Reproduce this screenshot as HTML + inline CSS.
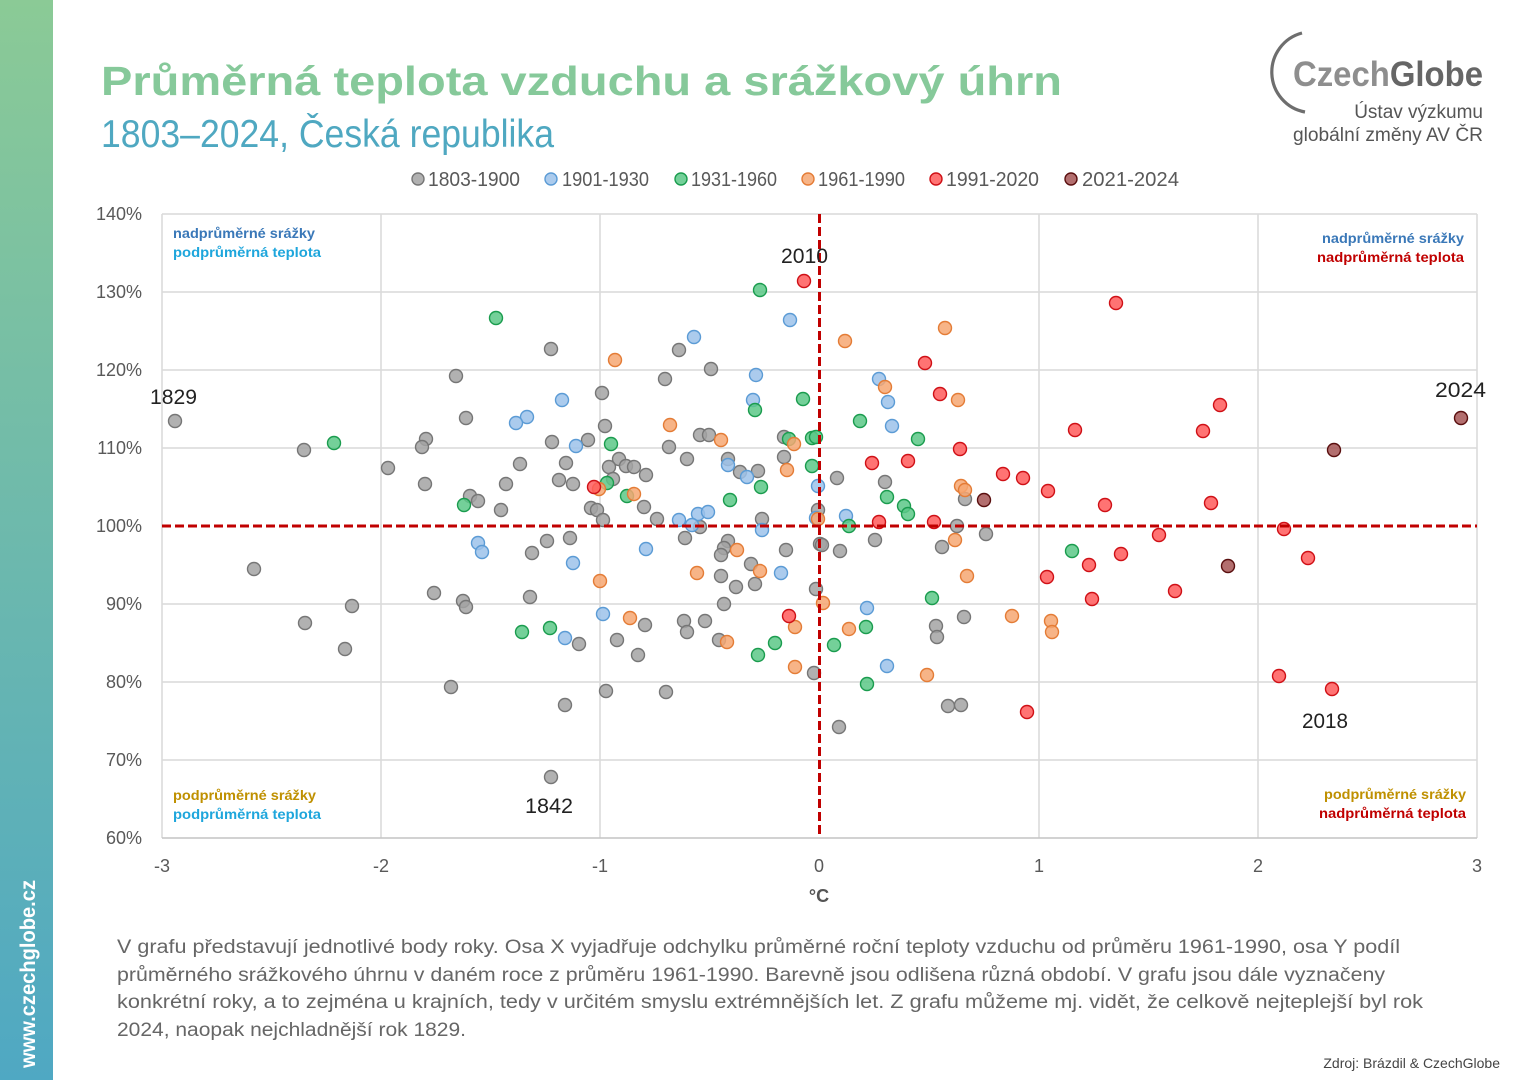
<!DOCTYPE html>
<html><head><meta charset="utf-8">
<style>
html,body{margin:0;padding:0;background:#fff;}
body{width:1527px;height:1080px;overflow:hidden;}
svg{display:block;font-family:"Liberation Sans","DejaVu Sans",sans-serif;}
.g{fill:#a3a3a3;stroke:#767676;}
.b{fill:#9cc2ea;stroke:#5b9bd5;}
.gr{fill:#5cc887;stroke:#1a9c4e;}
.o{fill:#f6a772;stroke:#e47c36;}
.r{fill:#ff5b5b;stroke:#cf1016;}
.d{fill:#a65656;stroke:#5a0f0f;}
circle{stroke-width:1.4;fill-opacity:.85;}
.yt{font-size:18px;fill:#595959;text-anchor:end;}
.xt{font-size:18px;fill:#595959;text-anchor:middle;}
.lg{font-size:20px;fill:#595959;}
.ql{font-size:13.5px;font-weight:bold;}
.yr{font-size:21px;fill:#222;}
.p{font-size:19px;fill:#666;}
</style></head>
<body>
<svg width="1527" height="1080" viewBox="0 0 1527 1080" xmlns="http://www.w3.org/2000/svg">
<defs>
<linearGradient id="sb" x1="0" y1="0" x2="0" y2="1">
<stop offset="0" stop-color="#8bca96"/>
<stop offset="1" stop-color="#4fa8c3"/>
</linearGradient>
</defs>
<rect x="0" y="0" width="1527" height="1080" fill="#fff"/>
<!-- sidebar -->
<rect x="0" y="0" width="53" height="1080" fill="url(#sb)"/>
<text transform="translate(35,1068) rotate(-90)" font-size="21" font-weight="bold" fill="#fff" textLength="188" lengthAdjust="spacingAndGlyphs">www.czechglobe.cz</text>

<!-- title -->
<text x="101" y="95" font-size="41" font-weight="bold" fill="#86c99a" textLength="961" lengthAdjust="spacingAndGlyphs">Průměrná teplota vzduchu a srážkový úhrn</text>
<text x="101" y="147" font-size="39" fill="#4fa8c1" textLength="453" lengthAdjust="spacingAndGlyphs">1803–2024, Česká republika</text>

<!-- logo -->
<path d="M1302,33 A40.5,40.5 0 0 0 1305,112" fill="none" stroke="#6e6e6e" stroke-width="3.2"/>
<text x="1293" y="86" font-size="35" font-weight="bold" textLength="190" lengthAdjust="spacingAndGlyphs"><tspan fill="#8e8e8e">Czech</tspan><tspan fill="#666">Globe</tspan></text>
<text x="1483" y="118" font-size="19" fill="#555" text-anchor="end">Ústav výzkumu</text>
<text x="1483" y="141" font-size="19" fill="#555" text-anchor="end" textLength="190" lengthAdjust="spacingAndGlyphs">globální změny AV ČR</text>

<!-- legend -->
<circle class="g" cx="418" cy="179" r="6"/><text class="lg" x="428" y="186" textLength="92" lengthAdjust="spacingAndGlyphs">1803-1900</text>
<circle class="b" cx="551" cy="179" r="6"/><text class="lg" x="562" y="186" textLength="87" lengthAdjust="spacingAndGlyphs">1901-1930</text>
<circle class="gr" cx="681" cy="179" r="6"/><text class="lg" x="691" y="186" textLength="86" lengthAdjust="spacingAndGlyphs">1931-1960</text>
<circle class="o" cx="808" cy="179" r="6"/><text class="lg" x="818" y="186" textLength="87" lengthAdjust="spacingAndGlyphs">1961-1990</text>
<circle class="r" cx="936" cy="179" r="6"/><text class="lg" x="946" y="186" textLength="93" lengthAdjust="spacingAndGlyphs">1991-2020</text>
<circle class="d" cx="1071" cy="179" r="6"/><text class="lg" x="1082" y="186" textLength="97" lengthAdjust="spacingAndGlyphs">2021-2024</text>

<!-- grid -->
<g stroke="#d9d9d9" stroke-width="1.5">
<line x1="162" y1="214" x2="1477" y2="214"/>
<line x1="162" y1="292" x2="1477" y2="292"/>
<line x1="162" y1="370" x2="1477" y2="370"/>
<line x1="162" y1="448" x2="1477" y2="448"/>
<line x1="162" y1="604" x2="1477" y2="604"/>
<line x1="162" y1="682" x2="1477" y2="682"/>
<line x1="162" y1="760" x2="1477" y2="760"/>
<line x1="162" y1="214" x2="162" y2="838"/>
<line x1="381" y1="214" x2="381" y2="838"/>
<line x1="600" y1="214" x2="600" y2="838"/>
<line x1="1039" y1="214" x2="1039" y2="838"/>
<line x1="1258" y1="214" x2="1258" y2="838"/>
<line x1="1477" y1="214" x2="1477" y2="838"/>
</g>
<line x1="162" y1="838" x2="1477" y2="838" stroke="#c4c4c4" stroke-width="1.5"/>

<!-- y ticks -->
<text class="yt" x="142" y="220">140%</text>
<text class="yt" x="142" y="298">130%</text>
<text class="yt" x="142" y="376">120%</text>
<text class="yt" x="142" y="454">110%</text>
<text class="yt" x="142" y="532">100%</text>
<text class="yt" x="142" y="610">90%</text>
<text class="yt" x="142" y="688">80%</text>
<text class="yt" x="142" y="766">70%</text>
<text class="yt" x="142" y="844">60%</text>
<!-- x ticks -->
<text class="xt" x="162" y="872">-3</text>
<text class="xt" x="381" y="872">-2</text>
<text class="xt" x="600" y="872">-1</text>
<text class="xt" x="819" y="872">0</text>
<text class="xt" x="1039" y="872">1</text>
<text class="xt" x="1258" y="872">2</text>
<text class="xt" x="1477" y="872">3</text>
<text x="819" y="902" font-size="18" font-weight="bold" fill="#555" text-anchor="middle">°C</text>

<!-- quadrant labels -->
<text class="ql" x="173" y="238" fill="#3a78b8" textLength="142" lengthAdjust="spacingAndGlyphs">nadprůměrné srážky</text>
<text class="ql" x="173" y="257" fill="#1ea6dc" textLength="148" lengthAdjust="spacingAndGlyphs">podprůměrná teplota</text>
<text class="ql" x="1322" y="243" fill="#3a78b8" textLength="142" lengthAdjust="spacingAndGlyphs">nadprůměrné srážky</text>
<text class="ql" x="1317" y="262" fill="#c00000" textLength="147" lengthAdjust="spacingAndGlyphs">nadprůměrná teplota</text>
<text class="ql" x="173" y="800" fill="#bf9000" textLength="143" lengthAdjust="spacingAndGlyphs">podprůměrné srážky</text>
<text class="ql" x="173" y="819" fill="#1ea6dc" textLength="148" lengthAdjust="spacingAndGlyphs">podprůměrná teplota</text>
<text class="ql" x="1324" y="799" fill="#bf9000" textLength="142" lengthAdjust="spacingAndGlyphs">podprůměrné srážky</text>
<text class="ql" x="1319" y="818" fill="#c00000" textLength="147" lengthAdjust="spacingAndGlyphs">nadprůměrná teplota</text>

<!-- gray 1803-1900 -->
<g>
<circle class="g" cx="175" cy="421" r="6.5"/><circle class="g" cx="456" cy="376" r="6.5"/><circle class="g" cx="466" cy="418" r="6.5"/><circle class="g" cx="426" cy="439" r="6.5"/><circle class="g" cx="422" cy="447" r="6.5"/><circle class="g" cx="304" cy="450" r="6.5"/><circle class="g" cx="388" cy="468" r="6.5"/><circle class="g" cx="425" cy="484" r="6.5"/><circle class="g" cx="506" cy="484" r="6.5"/><circle class="g" cx="470" cy="496" r="6.5"/><circle class="g" cx="478" cy="501" r="6.5"/><circle class="g" cx="501" cy="510" r="6.5"/><circle class="g" cx="254" cy="569" r="6.5"/><circle class="g" cx="434" cy="593" r="6.5"/><circle class="g" cx="463" cy="601" r="6.5"/><circle class="g" cx="466" cy="607" r="6.5"/><circle class="g" cx="352" cy="606" r="6.5"/><circle class="g" cx="305" cy="623" r="6.5"/><circle class="g" cx="345" cy="649" r="6.5"/><circle class="g" cx="451" cy="687" r="6.5"/>
<circle class="g" cx="551" cy="349" r="6.5"/><circle class="g" cx="679" cy="350" r="6.5"/><circle class="g" cx="711" cy="369" r="6.5"/><circle class="g" cx="665" cy="379" r="6.5"/><circle class="g" cx="602" cy="393" r="6.5"/><circle class="g" cx="605" cy="426" r="6.5"/><circle class="g" cx="700" cy="435" r="6.5"/><circle class="g" cx="709" cy="435" r="6.5"/><circle class="g" cx="552" cy="442" r="6.5"/><circle class="g" cx="588" cy="440" r="6.5"/><circle class="g" cx="669" cy="447" r="6.5"/><circle class="g" cx="784" cy="437" r="6.5"/><circle class="g" cx="520" cy="464" r="6.5"/><circle class="g" cx="566" cy="463" r="6.5"/><circle class="g" cx="619" cy="459" r="6.5"/><circle class="g" cx="609" cy="467" r="6.5"/><circle class="g" cx="626" cy="466" r="6.5"/><circle class="g" cx="634" cy="467" r="6.5"/><circle class="g" cx="646" cy="475" r="6.5"/><circle class="g" cx="687" cy="459" r="6.5"/><circle class="g" cx="728" cy="459" r="6.5"/><circle class="g" cx="784" cy="457" r="6.5"/><circle class="g" cx="559" cy="480" r="6.5"/><circle class="g" cx="573" cy="484" r="6.5"/><circle class="g" cx="613" cy="479" r="6.5"/><circle class="g" cx="740" cy="472" r="6.5"/><circle class="g" cx="758" cy="471" r="6.5"/><circle class="g" cx="644" cy="507" r="6.5"/><circle class="g" cx="591" cy="508" r="6.5"/><circle class="g" cx="597" cy="510" r="6.5"/><circle class="g" cx="603" cy="520" r="6.5"/><circle class="g" cx="657" cy="519" r="6.5"/><circle class="g" cx="762" cy="519" r="6.5"/><circle class="g" cx="818" cy="510" r="6.5"/><circle class="g" cx="700" cy="527" r="6.5"/>
<circle class="g" cx="547" cy="541" r="6.5"/><circle class="g" cx="570" cy="538" r="6.5"/><circle class="g" cx="532" cy="553" r="6.5"/><circle class="g" cx="685" cy="538" r="6.5"/><circle class="g" cx="728" cy="541" r="6.5"/><circle class="g" cx="724" cy="548" r="6.5"/><circle class="g" cx="721" cy="555" r="6.5"/><circle class="g" cx="786" cy="550" r="6.5"/><circle class="g" cx="820" cy="544" r="6.5"/><circle class="g" cx="751" cy="564" r="6.5"/><circle class="g" cx="721" cy="576" r="6.5"/><circle class="g" cx="736" cy="587" r="6.5"/><circle class="g" cx="755" cy="584" r="6.5"/><circle class="g" cx="816" cy="589" r="6.5"/><circle class="g" cx="530" cy="597" r="6.5"/><circle class="g" cx="724" cy="604" r="6.5"/><circle class="g" cx="645" cy="625" r="6.5"/><circle class="g" cx="684" cy="621" r="6.5"/><circle class="g" cx="705" cy="621" r="6.5"/><circle class="g" cx="687" cy="632" r="6.5"/><circle class="g" cx="579" cy="644" r="6.5"/><circle class="g" cx="617" cy="640" r="6.5"/><circle class="g" cx="719" cy="640" r="6.5"/><circle class="g" cx="638" cy="655" r="6.5"/><circle class="g" cx="814" cy="673" r="6.5"/><circle class="g" cx="606" cy="691" r="6.5"/><circle class="g" cx="666" cy="692" r="6.5"/><circle class="g" cx="565" cy="705" r="6.5"/><circle class="g" cx="551" cy="777" r="6.5"/>
<circle class="g" cx="837" cy="478" r="6.5"/><circle class="g" cx="885" cy="482" r="6.5"/><circle class="g" cx="965" cy="499" r="6.5"/><circle class="g" cx="957" cy="526" r="6.5"/><circle class="g" cx="986" cy="534" r="6.5"/><circle class="g" cx="822" cy="545" r="6.5"/><circle class="g" cx="840" cy="551" r="6.5"/><circle class="g" cx="875" cy="540" r="6.5"/><circle class="g" cx="942" cy="547" r="6.5"/><circle class="g" cx="964" cy="617" r="6.5"/><circle class="g" cx="936" cy="626" r="6.5"/><circle class="g" cx="937" cy="637" r="6.5"/><circle class="g" cx="948" cy="706" r="6.5"/><circle class="g" cx="961" cy="705" r="6.5"/><circle class="g" cx="839" cy="727" r="6.5"/>
</g>
<!-- blue 1901-1930 -->
<g>
<circle class="b" cx="478" cy="543" r="6.5"/><circle class="b" cx="482" cy="552" r="6.5"/><circle class="b" cx="790" cy="320" r="6.5"/><circle class="b" cx="694" cy="337" r="6.5"/><circle class="b" cx="756" cy="375" r="6.5"/><circle class="b" cx="562" cy="400" r="6.5"/><circle class="b" cx="753" cy="400" r="6.5"/><circle class="b" cx="527" cy="417" r="6.5"/><circle class="b" cx="516" cy="423" r="6.5"/><circle class="b" cx="576" cy="446" r="6.5"/><circle class="b" cx="728" cy="465" r="6.5"/><circle class="b" cx="747" cy="477" r="6.5"/><circle class="b" cx="818" cy="486" r="6.5"/><circle class="b" cx="679" cy="520" r="6.5"/><circle class="b" cx="698" cy="514" r="6.5"/><circle class="b" cx="708" cy="512" r="6.5"/><circle class="b" cx="816" cy="518" r="6.5"/><circle class="b" cx="692" cy="525" r="6.5"/><circle class="b" cx="762" cy="530" r="6.5"/><circle class="b" cx="646" cy="549" r="6.5"/><circle class="b" cx="573" cy="563" r="6.5"/><circle class="b" cx="781" cy="573" r="6.5"/><circle class="b" cx="603" cy="614" r="6.5"/><circle class="b" cx="565" cy="638" r="6.5"/>
<circle class="b" cx="879" cy="379" r="6.5"/><circle class="b" cx="888" cy="402" r="6.5"/><circle class="b" cx="892" cy="426" r="6.5"/><circle class="b" cx="846" cy="516" r="6.5"/><circle class="b" cx="867" cy="608" r="6.5"/><circle class="b" cx="887" cy="666" r="6.5"/>
</g>
<!-- green 1931-1960 -->
<g>
<circle class="gr" cx="496" cy="318" r="6.5"/><circle class="gr" cx="334" cy="443" r="6.5"/><circle class="gr" cx="464" cy="505" r="6.5"/><circle class="gr" cx="760" cy="290" r="6.5"/><circle class="gr" cx="803" cy="399" r="6.5"/><circle class="gr" cx="755" cy="410" r="6.5"/><circle class="gr" cx="611" cy="444" r="6.5"/><circle class="gr" cx="789" cy="439" r="6.5"/><circle class="gr" cx="812" cy="438" r="6.5"/><circle class="gr" cx="816" cy="437" r="6.5"/><circle class="gr" cx="812" cy="466" r="6.5"/><circle class="gr" cx="607" cy="483" r="6.5"/><circle class="gr" cx="761" cy="487" r="6.5"/><circle class="gr" cx="627" cy="496" r="6.5"/><circle class="gr" cx="730" cy="500" r="6.5"/><circle class="gr" cx="522" cy="632" r="6.5"/><circle class="gr" cx="550" cy="628" r="6.5"/><circle class="gr" cx="758" cy="655" r="6.5"/><circle class="gr" cx="775" cy="643" r="6.5"/>
<circle class="gr" cx="860" cy="421" r="6.5"/><circle class="gr" cx="918" cy="439" r="6.5"/><circle class="gr" cx="887" cy="497" r="6.5"/><circle class="gr" cx="904" cy="506" r="6.5"/><circle class="gr" cx="908" cy="514" r="6.5"/><circle class="gr" cx="849" cy="526" r="6.5"/><circle class="gr" cx="1072" cy="551" r="6.5"/><circle class="gr" cx="932" cy="598" r="6.5"/><circle class="gr" cx="866" cy="627" r="6.5"/><circle class="gr" cx="834" cy="645" r="6.5"/><circle class="gr" cx="867" cy="684" r="6.5"/>
</g>
<!-- orange 1961-1990 -->
<g>
<circle class="o" cx="615" cy="360" r="6.5"/><circle class="o" cx="670" cy="425" r="6.5"/><circle class="o" cx="721" cy="440" r="6.5"/><circle class="o" cx="794" cy="444" r="6.5"/><circle class="o" cx="787" cy="470" r="6.5"/><circle class="o" cx="599" cy="489" r="6.5"/><circle class="o" cx="634" cy="494" r="6.5"/><circle class="o" cx="818" cy="519" r="6.5"/><circle class="o" cx="737" cy="550" r="6.5"/><circle class="o" cx="760" cy="571" r="6.5"/><circle class="o" cx="697" cy="573" r="6.5"/><circle class="o" cx="600" cy="581" r="6.5"/><circle class="o" cx="823" cy="603" r="6.5"/><circle class="o" cx="630" cy="618" r="6.5"/><circle class="o" cx="795" cy="627" r="6.5"/><circle class="o" cx="727" cy="642" r="6.5"/><circle class="o" cx="795" cy="667" r="6.5"/>
<circle class="o" cx="845" cy="341" r="6.5"/><circle class="o" cx="945" cy="328" r="6.5"/><circle class="o" cx="885" cy="387" r="6.5"/><circle class="o" cx="958" cy="400" r="6.5"/><circle class="o" cx="961" cy="486" r="6.5"/><circle class="o" cx="965" cy="490" r="6.5"/><circle class="o" cx="955" cy="540" r="6.5"/><circle class="o" cx="967" cy="576" r="6.5"/><circle class="o" cx="1012" cy="616" r="6.5"/><circle class="o" cx="1051" cy="621" r="6.5"/><circle class="o" cx="1052" cy="632" r="6.5"/><circle class="o" cx="849" cy="629" r="6.5"/><circle class="o" cx="927" cy="675" r="6.5"/>
</g>
<!-- red 1991-2020 -->
<g>
<circle class="r" cx="804" cy="281" r="6.5"/><circle class="r" cx="594" cy="487" r="6.5"/><circle class="r" cx="789" cy="616" r="6.5"/>
<circle class="r" cx="1116" cy="303" r="6.5"/><circle class="r" cx="925" cy="363" r="6.5"/><circle class="r" cx="940" cy="394" r="6.5"/><circle class="r" cx="1075" cy="430" r="6.5"/><circle class="r" cx="960" cy="449" r="6.5"/><circle class="r" cx="872" cy="463" r="6.5"/><circle class="r" cx="908" cy="461" r="6.5"/><circle class="r" cx="1003" cy="474" r="6.5"/><circle class="r" cx="1023" cy="478" r="6.5"/><circle class="r" cx="1048" cy="491" r="6.5"/><circle class="r" cx="1105" cy="505" r="6.5"/><circle class="r" cx="879" cy="522" r="6.5"/><circle class="r" cx="934" cy="522" r="6.5"/><circle class="r" cx="1089" cy="565" r="6.5"/><circle class="r" cx="1121" cy="554" r="6.5"/><circle class="r" cx="1047" cy="577" r="6.5"/><circle class="r" cx="1092" cy="599" r="6.5"/><circle class="r" cx="1027" cy="712" r="6.5"/>
<circle class="r" cx="1220" cy="405" r="6.5"/><circle class="r" cx="1203" cy="431" r="6.5"/><circle class="r" cx="1211" cy="503" r="6.5"/><circle class="r" cx="1159" cy="535" r="6.5"/><circle class="r" cx="1284" cy="529" r="6.5"/><circle class="r" cx="1308" cy="558" r="6.5"/><circle class="r" cx="1175" cy="591" r="6.5"/><circle class="r" cx="1279" cy="676" r="6.5"/><circle class="r" cx="1332" cy="689" r="6.5"/>
</g>
<!-- dark red 2021-2024 -->
<g>
<circle class="d" cx="984" cy="500" r="6.5"/><circle class="d" cx="1334" cy="450" r="6.5"/><circle class="d" cx="1461" cy="418" r="6.5"/><circle class="d" cx="1228" cy="566" r="6.5"/>
</g>

<!-- dashed reference lines -->
<line x1="162" y1="526" x2="1477" y2="526" stroke="#c00000" stroke-width="3" stroke-dasharray="9,4"/>
<line x1="819.5" y1="214" x2="819.5" y2="838" stroke="#c00000" stroke-width="3" stroke-dasharray="9,4"/>

<!-- year labels -->
<text class="yr" x="781" y="263" textLength="47" lengthAdjust="spacingAndGlyphs">2010</text>
<text class="yr" x="150" y="404" textLength="47" lengthAdjust="spacingAndGlyphs">1829</text>
<text class="yr" x="1435" y="397" textLength="51" lengthAdjust="spacingAndGlyphs">2024</text>
<text class="yr" x="1302" y="728" textLength="46" lengthAdjust="spacingAndGlyphs">2018</text>
<text class="yr" x="525" y="813" textLength="48" lengthAdjust="spacingAndGlyphs">1842</text>

<!-- description -->
<text class="p" x="117" y="953" textLength="1283" lengthAdjust="spacingAndGlyphs">V grafu představují jednotlivé body roky. Osa X vyjadřuje odchylku průměrné roční teploty vzduchu od průměru 1961-1990, osa Y podíl</text>
<text class="p" x="117" y="981" textLength="1268" lengthAdjust="spacingAndGlyphs">průměrného srážkového úhrnu v daném roce z průměru 1961-1990. Barevně jsou odlišena různá období. V grafu jsou dále vyznačeny</text>
<text class="p" x="117" y="1008" textLength="1306" lengthAdjust="spacingAndGlyphs">konkrétní roky, a to zejména u krajních, tedy v určitém smyslu extrémnějších let. Z grafu můžeme mj. vidět, že celkově nejteplejší byl rok</text>
<text class="p" x="117" y="1036" textLength="349" lengthAdjust="spacingAndGlyphs">2024, naopak nejchladnější rok 1829.</text>
<text x="1500" y="1068" font-size="14" fill="#444" text-anchor="end">Zdroj: Brázdil &amp; CzechGlobe</text>
</svg>
</body></html>
